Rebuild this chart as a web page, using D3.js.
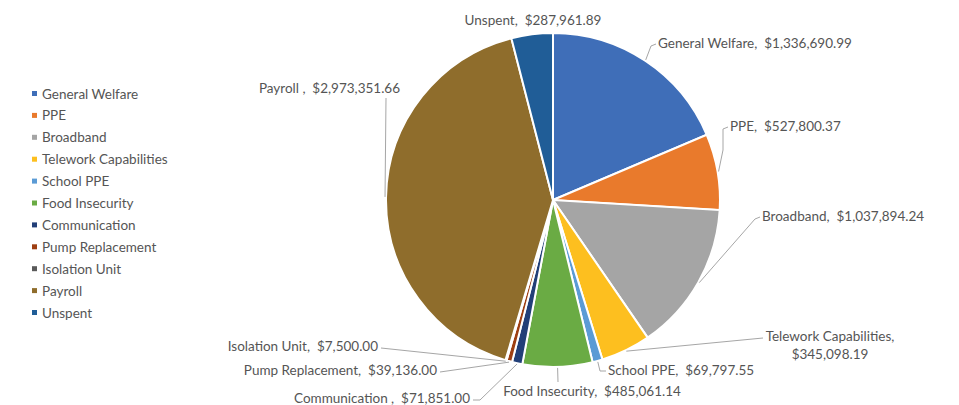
<!DOCTYPE html>
<html>
<head>
<meta charset="utf-8">
<script src="https://cdn.jsdelivr.net/npm/d3@7/dist/d3.min.js"></script>
<style>
  body { margin: 0; background: #fff; }
  svg { display: block; font-family: Lato, "Open Sans", sans-serif; }
</style>
</head>
<body>
<div id="chart"></div>
<script>
// categories and amounts
var categories = ["General Welfare", "PPE", "Broadband", "Telework Capabilities", "School PPE",
  "Food Insecurity", "Communication ", "Pump Replacement", "Isolation Unit", "Payroll ", "Unspent"];
var amounts = [1336690.99, 527800.37, 1037894.24, 345098.19, 69797.55,
  485061.14, 71851.00, 39136.00, 7500.00, 2973351.66, 287961.89];
var colors = ["#3F6EB8", "#E97A2C", "#A5A5A5", "#FDBF1F", "#5B9BD5",
  "#6AAB44", "#223F78", "#9E3F12", "#5A5A5A", "#8F6D2C", "#205D97"];

var width = 959, height = 405;
var cx = 553, cy = 200, radius = 167;

var svg = d3.select("#chart").append("svg")
  .attr("width", width)
  .attr("height", height);

var data = categories.map(function(c, i) { return { name: c, value: amounts[i], color: colors[i] }; });

var pie = d3.pie().sort(null).value(d => d.value);
var arc = d3.arc().innerRadius(0).outerRadius(radius);
var arcs = pie(data);

var pieGroup = svg.append("g").attr("transform", `translate(${cx}, ${cy})`);

pieGroup.selectAll("path")
  .data(arcs)
  .enter()
  .append("path")
  .attr("d", arc)
  .attr("fill", d => d.data.color)
  .attr("stroke", "#fff")
  .attr("stroke-width", 2);

// point on the pie edge at the middle of a slice (page coords)
function edgePoint(d, r) {
  var a = (d.startAngle + d.endAngle) / 2;
  return [cx + r * Math.sin(a), cy - r * Math.cos(a)];
}

var fmt = d3.format("$,.2f");

// where each data label sits and how its leader line bends
var labelLayout = {
  "General Welfare": { x: 658, y: 48, anchor: "start", lead: [[656, 44], [651, 46]] },
  "PPE": { x: 730, y: 131, anchor: "start", lead: [[728, 127], [723, 129], [723, 150]] },
  "Broadband": { x: 762, y: 221, anchor: "start", lead: [[760, 217], [755, 219]] },
  "Telework Capabilities": { x: 830, y: 341, anchor: "middle", wrap: true, lead: [[763, 338]] },
  "School PPE": { x: 608, y: 375, anchor: "start", lead: [[606, 371], [600, 371]] },
  "Food Insecurity": { x: 592, y: 396, anchor: "middle", lead: [[558, 382]] },
  "Communication ": { x: 470, y: 403, anchor: "end", lead: [[473, 400], [480, 400]] },
  "Pump Replacement": { x: 437, y: 375, anchor: "end", lead: [[440, 372]] },
  "Isolation Unit": { x: 378, y: 351, anchor: "end", lead: [[381, 348]] },
  "Payroll ": { x: 400, y: 93, anchor: "end", lead: [[386, 98]] },
  "Unspent": { x: 533, y: 25, anchor: "middle", lead: null }
};

var labelGroup = svg.append("g");

arcs.forEach(function(d) {
  var lay = labelLayout[d.data.name];
  if (lay.lead) {
    var pts = lay.lead.concat([edgePoint(d, radius + 1)]);
    labelGroup.append("path")
      .attr("d", d3.line()(pts))
      .attr("fill", "none")
      .attr("stroke", "#a6a6a6")
      .attr("stroke-width", 1);
  }
  var t = labelGroup.append("text")
    .attr("x", lay.x)
    .attr("y", lay.y)
    .attr("text-anchor", lay.anchor)
    .attr("font-size", 13.5)
    .attr("fill", "#555")
    .style("white-space", "pre");
  if (lay.wrap) {
    t.append("tspan").attr("x", lay.x).text(d.data.name + ",");
    t.append("tspan").attr("x", lay.x).attr("dy", 18).text(fmt(d.data.value));
  } else {
    t.text(d.data.name + ",  " + fmt(d.data.value));
  }
});

// legend
var legend = svg.append("g").attr("transform", "translate(32, 94)");

var rows = legend.selectAll("g")
  .data(data)
  .enter()
  .append("g")
  .attr("transform", (d, i) => `translate(0, ${i * 21.9})`);

rows.append("rect")
  .attr("x", 0)
  .attr("y", -3)
  .attr("width", 5)
  .attr("height", 5)
  .attr("fill", d => d.color);

rows.append("text")
  .attr("x", 10)
  .attr("y", 4.5)
  .attr("font-size", 13.5)
  .attr("fill", "#555")
  .text(d => d.name.trim());
</script>
</body>
</html>
